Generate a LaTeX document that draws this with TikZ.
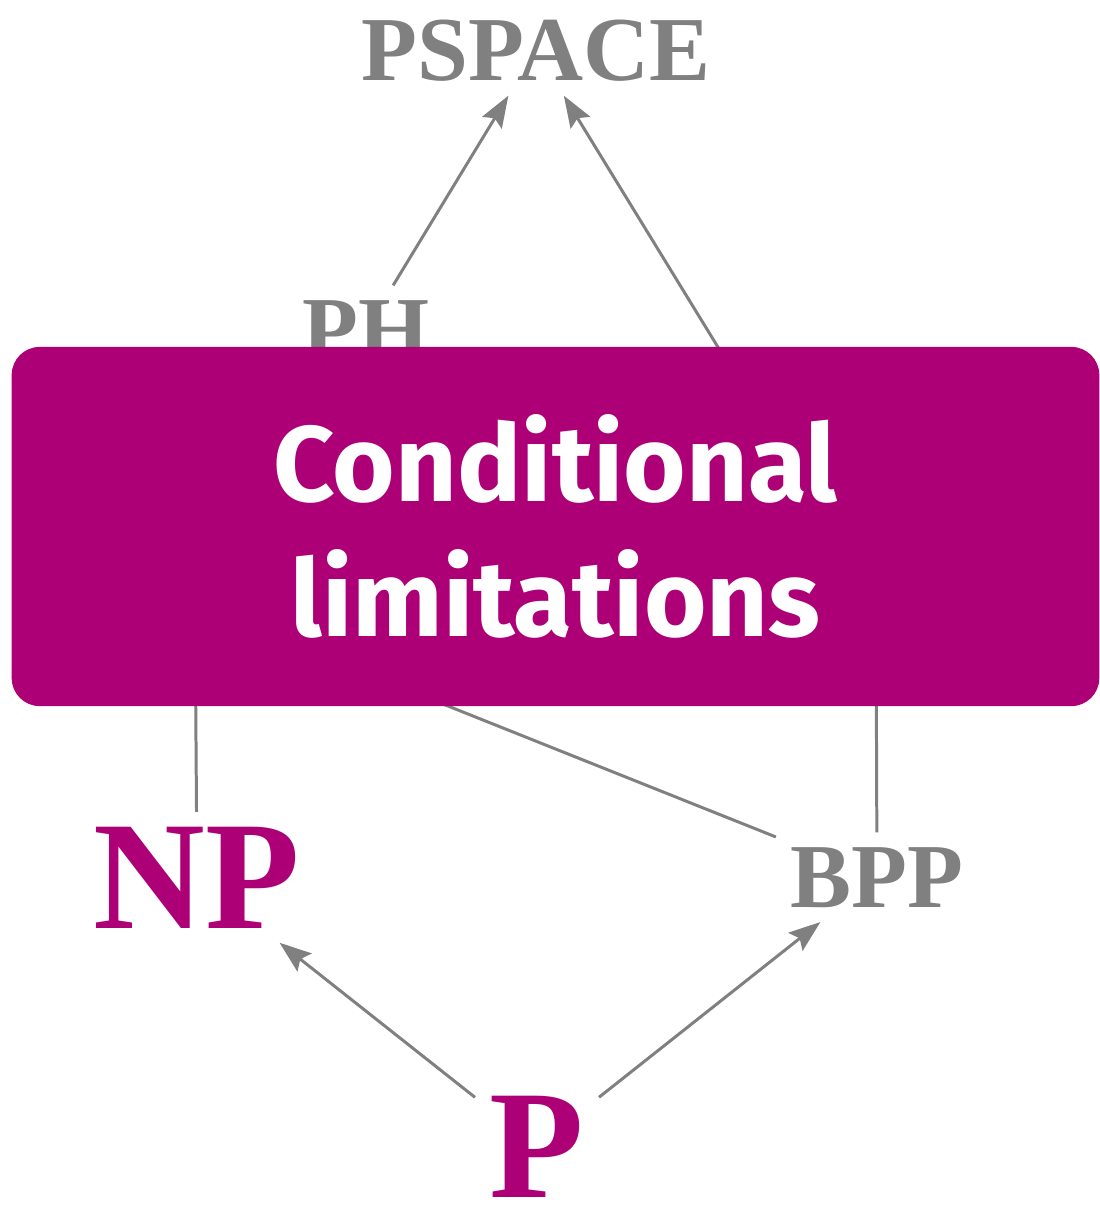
\documentclass[tikz,border=0pt]{standalone}
\usepackage{fontspec}
\setmainfont{Liberation Serif}
\setsansfont{Fira Sans}
\usetikzlibrary{arrows.meta,positioning}
\definecolor{plum}{RGB}{173,0,119}
\definecolor{classgray}{RGB}{128,128,128}
\tikzset{
  cls/.style={font=\bfseries\fontsize{26}{30}\selectfont, text=classgray, inner sep=4pt},
  bigcls/.style={font=\bfseries\fontsize{44}{50}\selectfont, text=plum, inner sep=4pt},
  incl/.style={draw=classgray, line width=0.85pt},
  inclarr/.style={incl, -{Stealth[length=9pt,width=6.5pt,inset=1.5pt]}},
  limbox/.style={fill=plum, rounded corners=0.28cm, text=white, align=center,
    minimum width=10.87cm, minimum height=3.59cm,
    font=\sffamily\bfseries\fontsize{30.5}{38.4}\selectfont}
}
\begin{document}
\begin{tikzpicture}[x=0.01cm, y=-0.01cm]
\useasboundingbox (0,0) rectangle (1099,1205);
% Classes
\node[cls, anchor=base] (pspace) at (536,80) {PSPACE};
\node[cls, anchor=base] (ph) at (366,360) {PH};
\node[bigcls, anchor=base] (np) at (197,928) {NP};
\node[cls, anchor=base] (bpp) at (877,907) {BPP};
\node[bigcls, anchor=base] (p) at (537,1197) {P};
% Hidden behind the box
\coordinate (hidl) at (195,605);
\coordinate (hidr) at (876,605);
% Inclusions
\draw[inclarr] (ph) -- (pspace);
\draw[inclarr] (hidr) -- (pspace);
\draw[incl] (np) -- (hidl);
\draw[incl] (bpp) -- (hidl);
\draw[incl] (bpp) -- (hidr);
\draw[inclarr] (p) -- (np);
\draw[inclarr] (p) -- (bpp);
% Box
\node[limbox] (cond) at (555.5,526.5) {Conditional\\limitations};
\end{tikzpicture}
\end{document}
